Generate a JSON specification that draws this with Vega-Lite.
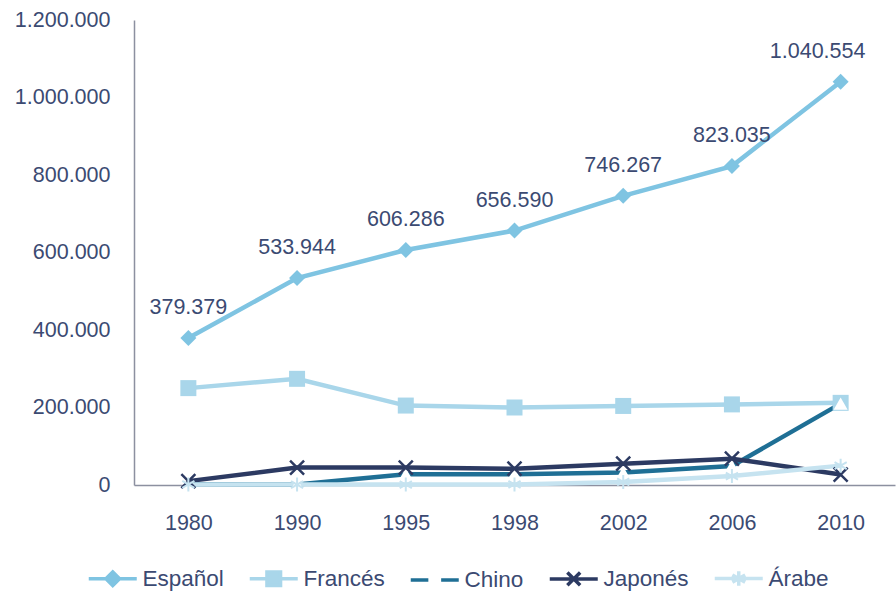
{
  "$schema": "https://vega.github.io/schema/vega-lite/v6.json",
  "width": 761,
  "height": 465,
  "autosize": {"type": "none"},
  "padding": {"left": 134, "top": 20, "right": 1, "bottom": 106},
  "background": "white",
  "config": {
    "view": {"stroke": null},
    "locale": {"number": {"decimal": ",", "thousands": ".", "grouping": [3], "currency": ["", " €"]}},
    "font": "Liberation Sans",
    "axis": {"labelFont": "Liberation Sans", "labelFontSize": 21.5, "labelColor": "#3B4A72", "grid": false, "ticks": false, "domainColor": "#8C90A0", "domainWidth": 1.5, "title": null}
  },
  "data": {"values": [
    {"year": "1980", "serie": "Español", "value": 379379},
    {"year": "1990", "serie": "Español", "value": 533944},
    {"year": "1995", "serie": "Español", "value": 606286},
    {"year": "1998", "serie": "Español", "value": 656590},
    {"year": "2002", "serie": "Español", "value": 746267},
    {"year": "2006", "serie": "Español", "value": 823035},
    {"year": "2010", "serie": "Español", "value": 1040554},
    {"year": "1980", "serie": "Francés", "value": 250000},
    {"year": "1990", "serie": "Francés", "value": 274000},
    {"year": "1995", "serie": "Francés", "value": 205000},
    {"year": "1998", "serie": "Francés", "value": 200000},
    {"year": "2002", "serie": "Francés", "value": 204000},
    {"year": "2006", "serie": "Francés", "value": 208000},
    {"year": "2010", "serie": "Francés", "value": 212000},
    {"year": "1980", "serie": "Chino", "value": 2000},
    {"year": "1990", "serie": "Chino", "value": 1000},
    {"year": "1995", "serie": "Chino", "value": 28000},
    {"year": "1998", "serie": "Chino", "value": 28000},
    {"year": "2002", "serie": "Chino", "value": 32000},
    {"year": "2006", "serie": "Chino", "value": 49000},
    {"year": "2010", "serie": "Chino", "value": 210000},
    {"year": "1980", "serie": "Japonés", "value": 10000},
    {"year": "1990", "serie": "Japonés", "value": 45000},
    {"year": "1995", "serie": "Japonés", "value": 45000},
    {"year": "1998", "serie": "Japonés", "value": 42000},
    {"year": "2002", "serie": "Japonés", "value": 55000},
    {"year": "2006", "serie": "Japonés", "value": 68000},
    {"year": "2010", "serie": "Japonés", "value": 27000},
    {"year": "1980", "serie": "Árabe", "value": 1500},
    {"year": "1990", "serie": "Árabe", "value": 1000},
    {"year": "1995", "serie": "Árabe", "value": 1000},
    {"year": "1998", "serie": "Árabe", "value": 1500},
    {"year": "2002", "serie": "Árabe", "value": 8000},
    {"year": "2006", "serie": "Árabe", "value": 23000},
    {"year": "2010", "serie": "Árabe", "value": 50000}
  ]},
  "encoding": {
    "x": {"field": "year", "type": "ordinal", "sort": null, "scale": {"type": "point", "padding": 0.5}, "axis": {"labelAngle": 0, "labelPadding": 27}},
    "y": {"field": "value", "type": "quantitative", "scale": {"domain": [0, 1200000], "nice": false}, "axis": {"values": [0, 200000, 400000, 600000, 800000, 1000000, 1200000], "labelExpr": "format(datum.value, ',')", "labelPadding": 24}},
    "color": {
      "field": "serie", "type": "nominal",
      "scale": {"domain": ["Español", "Francés", "Chino", "Japonés", "Árabe"], "range": ["#7FC4E2", "#A9D6EA", "#1F6F95", "#2C3A62", "#C6E3F0"]},
      "legend": {
        "orient": "none", "legendX": -47, "legendY": 547, "direction": "horizontal", "title": null,
        "labelFontSize": 22.5, "labelColor": "#3B4A72", "labelFont": "Liberation Sans",
        "symbolSize": 256, "symbolStrokeWidth": 3, "symbolOffset": 14.5, "labelOffset": 18.5, "columnPadding": 18,
        "encode": {"symbols": {"update": {
          "shape": {"signal": "datum.value === 'Español' ? 'M-3,0L3,0M-0.85,0L0,-0.85L0.85,0L0,0.85Z' : datum.value === 'Francés' ? 'M-3,0L3,0M-0.85,-0.85L0.85,-0.85L0.85,0.85L-0.85,0.85Z' : datum.value === 'Chino' ? 'M-3,0L-0.8,0M0.8,0L3,0' : datum.value === 'Japonés' ? 'M-3,0L3,0M-0.8,-0.8L0.8,0.8M-0.8,0.8L0.8,-0.8' : 'M-3,0L3,0M0,-0.9L0,0.9M-0.8,-0.45L0.8,0.45M-0.8,0.45L0.8,-0.45'"},
          "fill": {"signal": "(datum.value === 'Español' || datum.value === 'Francés') ? scale('color', datum.value) : 'transparent'"},
          "stroke": {"signal": "scale('color', datum.value)"},
          "strokeWidth": {"value": 3.5},
          "size": {"value": 256},
          "opacity": {"value": 1}
        }}}
      }
    }
  },
  "layer": [
    {"mark": {"type": "line", "strokeWidth": 4.5}},
    {"transform": [{"filter": "datum.serie === 'Español'"}], "mark": {"type": "point", "shape": "diamond", "filled": true, "size": 256, "opacity": 1}},
    {"transform": [{"filter": "datum.serie === 'Francés'"}], "mark": {"type": "point", "shape": "square", "filled": true, "size": 256, "opacity": 1}},
    {"transform": [{"filter": "datum.serie === 'Chino'"}], "mark": {"type": "point", "shape": "triangle-up", "filled": true, "size": 196, "opacity": 1}, "encoding": {"color": {"value": "white"}}},
    {"transform": [{"filter": "datum.serie === 'Japonés'"}], "mark": {"type": "point", "shape": "M-1,-1L1,1M-1,1L1,-1", "filled": false, "size": 196, "strokeWidth": 2.5, "opacity": 1}},
    {"transform": [{"filter": "datum.serie === 'Árabe'"}], "mark": {"type": "point", "shape": "M0,-1L0,1M-0.87,-0.5L0.87,0.5M-0.87,0.5L0.87,-0.5", "filled": false, "size": 196, "strokeWidth": 2, "opacity": 1}},
    {"transform": [{"filter": "datum.serie === 'Español' && datum.year !== '2010'"}], "mark": {"type": "text", "dy": -30, "fontSize": 21.5, "font": "Liberation Sans"}, "encoding": {"text": {"field": "value", "type": "quantitative", "format": ","}, "color": {"value": "#3B4A72"}}},
    {"transform": [{"filter": "datum.serie === 'Español' && datum.year === '2010'"}], "mark": {"type": "text", "dy": -30, "dx": -23, "fontSize": 21.5, "font": "Liberation Sans"}, "encoding": {"text": {"field": "value", "type": "quantitative", "format": ","}, "color": {"value": "#3B4A72"}}}
  ]
}
